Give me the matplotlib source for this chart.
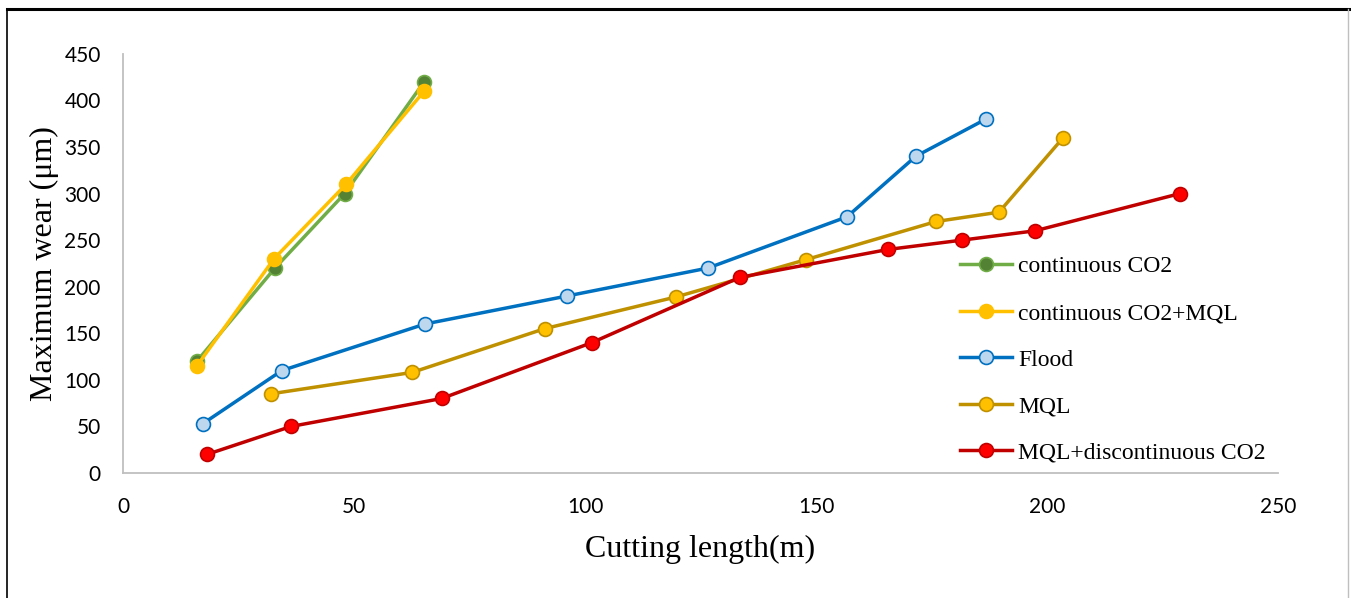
import matplotlib.pyplot as plt
from matplotlib.lines import Line2D

# data
co2_x = [16.0, 32.9, 48.0, 65.2]
co2_y = [120, 220, 300, 420]
co2mql_x = [16.0, 32.7, 48.3, 65.2]
co2mql_y = [115, 230, 310, 410]
flood_x = [17.3, 34.4, 65.4, 96.1, 126.6, 156.7, 171.6, 186.8]
flood_y = [53, 110, 160, 190, 220, 275, 340, 380]
mql_x = [32.0, 62.6, 91.3, 119.7, 147.8, 176.0, 189.6, 203.5]
mql_y = [85, 108, 155, 189, 229, 270, 280, 360]
mqldc_x = [18.2, 36.4, 69.0, 101.5, 133.5, 165.6, 181.6, 197.4, 228.8]
mqldc_y = [20, 50, 80, 140, 210, 240, 250, 260, 300]

series = [
    ('continuous CO2', co2_x, co2_y, '#70AD47', '#548235', '#70AD47'),
    ('continuous CO2+MQL', co2mql_x, co2mql_y, '#FFC000', '#FFC000', '#FFC000'),
    ('Flood', flood_x, flood_y, '#0070C0', '#BDD7EE', '#0070C0'),
    ('MQL', mql_x, mql_y, '#BF9000', '#FFC000', '#BF9000'),
    ('MQL+discontinuous CO2', mqldc_x, mqldc_y, '#C00000', '#FF0000', '#C00000'),
]

fig = plt.figure(figsize=(13.51, 5.98), dpi=100)
ax = fig.add_axes([0.091, 0.209, 0.855, 0.701])

for name, xs, ys, lc, fc, ec in series:
    ax.plot(xs, ys, color=lc, lw=2.5, marker='o', ms=10, mfc=fc, mec=ec,
            mew=1.2, label=name)

ax.set_xlim(0, 250)
ax.set_ylim(0, 450)
ax.set_xticks(range(0, 251, 50))
ax.set_yticks(range(0, 451, 50))
for s in ['top', 'right']:
    ax.spines[s].set_visible(False)
for s in ['left', 'bottom']:
    ax.spines[s].set_color('#BFBFBF')
    ax.spines[s].set_linewidth(1.3)
ax.tick_params(length=0, labelsize=15)
ax.tick_params(axis='x', pad=17)
ax.tick_params(axis='y', pad=16)
for lab in ax.get_xticklabels() + ax.get_yticklabels():
    lab.set_family('Lato')

ax.set_xlabel('Cutting length(m)', family='Liberation Serif', fontsize=23, labelpad=13)
ax.set_ylabel('Maximum wear (μm)', family='Liberation Serif', fontsize=23, labelpad=4)

ax.legend(loc='center left', bbox_to_anchor=(0.7247, 0.27), frameon=False,
          borderaxespad=0, borderpad=0,
          prop={'family': 'Liberation Serif', 'size': 17}, handlelength=2.2,
          handletextpad=0.25, labelspacing=1.06)

# outer frame
fig.add_artist(Line2D([0.005, 1.0], [0.985, 0.985], color='black', lw=2.2, transform=fig.transFigure))
fig.add_artist(Line2D([0.005, 0.005], [0.0, 0.985], color='black', lw=1.2, transform=fig.transFigure))
fig.add_artist(Line2D([0.998, 0.998], [0.0, 0.985], color='#BFBFBF', lw=1.0, transform=fig.transFigure))

fig.savefig('out.png', dpi=100)
